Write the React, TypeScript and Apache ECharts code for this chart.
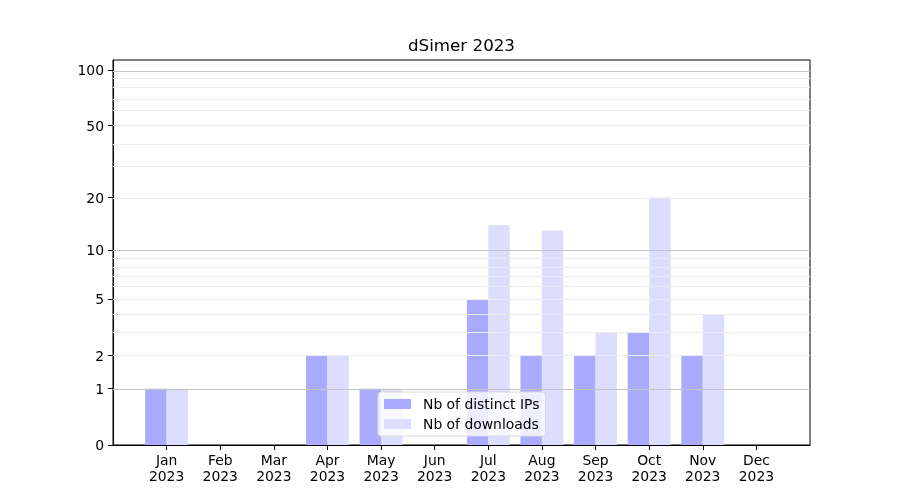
import React, { useEffect, useRef } from "react";
import * as echarts from "echarts";

const months = ["Jan", "Feb", "Mar", "Apr", "May", "Jun", "Jul", "Aug", "Sep", "Oct", "Nov", "Dec"];
const year = "2023";
const distinctIPs = [1, 0, 0, 2, 1, 0, 5, 2, 2, 3, 2, 0];
const downloads = [1, 0, 0, 2, 1, 0, 14, 13, 3, 20, 4, 0];
const yTickValues = [0, 1, 2, 5, 10, 20, 50, 100];
const majorGrid = [1, 10, 100];
const minorGrid = [2, 3, 4, 5, 6, 7, 8, 9, 20, 30, 40, 50, 60, 70, 80, 90];
const yMaxValue = 113.2;

const T = (v: number) => Math.log10(1 + v);
const FONT = "DejaVu Sans";

export default function App() {
  const ref = useRef<HTMLDivElement>(null);
  useEffect(() => {
    if (!ref.current) return;
    const chart = echarts.init(ref.current, undefined, { renderer: "svg" });
    const tickT = yTickValues.map(T);
    const fmtY = (v: number) => {
      let best = 0;
      let d = Infinity;
      tickT.forEach((t, i) => {
        if (Math.abs(t - v) < d) {
          d = Math.abs(t - v);
          best = i;
        }
      });
      return String(yTickValues[best]);
    };
    const xIdx = months.map((_, i) => i);
    chart.setOption({
      animation: false,
      textStyle: { fontFamily: FONT },
      title: {
        text: `dSimer ${year}`,
        left: 408,
        top: 36,
        padding: 0,
        textStyle: { fontFamily: FONT, fontSize: 16.7, fontWeight: "normal", color: "#000" },
      },
      grid: {
        left: 113,
        right: 90,
        top: 60,
        bottom: 55,
        show: true,
        borderColor: "#000",
        borderWidth: 1,
        backgroundColor: "transparent",
      },
      legend: {
        orient: "vertical",
        left: 378,
        top: 392,
        itemWidth: 27,
        itemHeight: 10,
        itemGap: 6,
        padding: [5, 6, 5, 6],
        backgroundColor: "rgba(255,255,255,0.8)",
        borderColor: "#d9d9d9",
        borderWidth: 1,
        borderRadius: 3,
        icon: "rect",
        textStyle: { fontFamily: FONT, fontSize: 13.9, color: "#000", padding: [0, 0, 0, 7] },
        data: ["Nb of distinct IPs", "Nb of downloads"],
      },
      xAxis: {
        type: "value",
        min: -1,
        max: 12,
        interval: 1,
        axisLine: { show: true, onZero: false, lineStyle: { color: "#000", width: 1 } },
        axisTick: { show: true, length: 5, customValues: xIdx, lineStyle: { color: "#000" } },
        axisLabel: {
          customValues: xIdx,
          margin: 7,
          fontFamily: FONT,
          fontSize: 13.9,
          lineHeight: 16,
          color: "#000",
          formatter: (v: number) => (months[v] !== undefined ? `${months[v]}\n${year}` : ""),
        },
        splitLine: { show: false },
      },
      yAxis: {
        type: "value",
        min: 0,
        max: T(yMaxValue),
        axisLine: { show: true, onZero: false, lineStyle: { color: "#000", width: 1 } },
        axisTick: { show: true, length: 5, customValues: tickT, lineStyle: { color: "#000" } },
        axisLabel: {
          customValues: tickT,
          margin: 9,
          fontFamily: FONT,
          fontSize: 13.9,
          color: "#000",
          formatter: fmtY,
        },
        splitLine: { show: false },
      },
      series: [
        {
          name: "Nb of distinct IPs",
          type: "bar",
          barWidth: "40%",
          barGap: "0%",
          itemStyle: { color: "#aaaaff" },
          data: distinctIPs.map((v, i) => [i, T(v)]),
          markLine: {
            silent: true,
            symbol: ["none", "none"],
            label: { show: false },
            z: 5,
            data: [
              ...minorGrid.map((v) => ({ yAxis: T(v), lineStyle: { color: "#ebebeb", width: 1, type: "solid" } })),
              ...majorGrid.map((v) => ({ yAxis: T(v), lineStyle: { color: "#c4c4c4", width: 1, type: "solid" } })),
            ],
          },
        },
        {
          name: "Nb of downloads",
          type: "bar",
          barWidth: "40%",
          barGap: "0%",
          itemStyle: { color: "#ddddff" },
          data: downloads.map((v, i) => [i, T(v)]),
        },
      ],
    });
    return () => chart.dispose();
  }, []);
  return <div ref={ref} style={{ position: "fixed", left: 0, top: 0, width: 900, height: 500 }} />;
}
